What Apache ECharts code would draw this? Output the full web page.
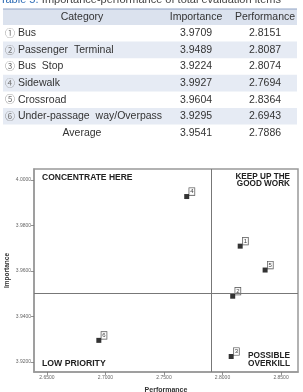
<!DOCTYPE html>
<html><head><meta charset="utf-8">
<script src="https://cdn.jsdelivr.net/npm/echarts@6/dist/echarts.min.js"></script>
<style>html,body{margin:0;padding:0;background:#fff;overflow:hidden}#c{width:303px;height:392px}</style>
</head><body><div id="c"></div>
<script>
const titleLabel = 'Table 5.';
const titleText = 'Importance-performance of total evaluation items';
const headers = ['Category', 'Importance', 'Performance'];
const categories = ['Bus', 'Passenger  Terminal', 'Bus  Stop', 'Sidewalk', 'Crossroad', 'Under-passage  way/Overpass'];
const markers = ['①', '②', '③', '④', '⑤', '⑥'];
const pointIds = ['1', '2', '3', '4', '5', '6'];
const importance = [3.9709, 3.9489, 3.9224, 3.9927, 3.9604, 3.9295];
const performance = [2.8151, 2.8087, 2.8074, 2.7694, 2.8364, 2.6943];
const averageLabel = 'Average';
const averageImportance = 3.9541;
const averagePerformance = 2.7886;
const xTicks = [2.65, 2.70, 2.75, 2.80, 2.85];
const yTicks = [3.92, 3.94, 3.96, 3.98, 4.00];
const xName = 'Performance';
const yName = 'Importance';
const quadrantLabels = ['CONCENTRATE HERE', 'KEEP UP THE\nGOOD WORK', 'LOW PRIORITY', 'POSSIBLE\nOVERKILL'];

const FONT = "'Liberation Sans','Noto Sans CJK KR',sans-serif";
const chart = echarts.init(document.getElementById('c'), null, {renderer: 'canvas'});

const graphics = [];
// title
graphics.push({type: 'text', left: 0, top: -6, style: {
  text: '{a|' + titleLabel + '} {b|' + titleText + '}', fontFamily: FONT,
  rich: {a: {fill: '#2f6db5', fontSize: 11, fontFamily: FONT}, b: {fill: '#444', fontSize: 11, fontFamily: FONT}}
}});
// table
const tx0 = 3, tx1 = 297, hTop = 9, hH = 16, rH = 16.6;
graphics.push({type: 'rect', shape: {x: tx0, y: hTop, width: tx1 - tx0, height: hH}, style: {fill: '#dbe2ee'}});
graphics.push({type: 'line', shape: {x1: tx0, y1: hTop, x2: tx1, y2: hTop}, style: {stroke: '#8fa2c4', lineWidth: 1}});
const colX = [82, 196, 265];
headers.forEach((h, j) => graphics.push({type: 'text', x: colX[j], y: hTop + hH / 2, style: {
  text: h, fontFamily: FONT, fontSize: 10.5, fill: '#333', align: 'center', verticalAlign: 'middle'}}));
const rows = categories.map((c, i) => ({name: c, mk: markers[i], imp: importance[i], perf: performance[i]}));
rows.push({name: averageLabel, mk: null, imp: averageImportance, perf: averagePerformance});
rows.forEach((r, i) => {
  const top = hTop + hH + i * rH, cy = top + rH / 2;
  if (i % 2 === 1) graphics.push({type: 'rect', shape: {x: tx0, y: top, width: tx1 - tx0, height: rH}, style: {fill: '#e6ebf4'}});
  if (r.mk) {
    graphics.push({type: 'text', x: 5, y: cy, style: {text: '{m|' + r.mk + '} ' + r.name, fontFamily: FONT, fontSize: 10.5, fill: '#333', verticalAlign: 'middle',
      rich: {m: {fontSize: 10, fill: '#777', fontFamily: "'Noto Sans CJK KR'"}}}});
  } else {
    graphics.push({type: 'text', x: colX[0], y: cy, style: {text: r.name, fontFamily: FONT, fontSize: 10.5, fill: '#333', align: 'center', verticalAlign: 'middle'}});
  }
  graphics.push({type: 'text', x: colX[1], y: cy, style: {text: r.imp.toFixed(4), fontFamily: FONT, fontSize: 10.5, fill: '#333', align: 'center', verticalAlign: 'middle'}});
  graphics.push({type: 'text', x: colX[2], y: cy, style: {text: r.perf.toFixed(4), fontFamily: FONT, fontSize: 10.5, fill: '#333', align: 'center', verticalAlign: 'middle'}});
});
// quadrant labels
const qFont = "'Liberation Sans',Arial,sans-serif";
graphics.push({type: 'text', x: 42, y: 178, z: 10, style: {text: quadrantLabels[0], fontFamily: qFont, fontWeight: 'bold', fontSize: 8.5, fill: '#222', verticalAlign: 'middle'}});
graphics.push({type: 'text', x: 290, y: 180, z: 10, style: {text: quadrantLabels[1], fontFamily: qFont, fontWeight: 'bold', fontSize: 8.2, lineHeight: 6.8, fill: '#222', align: 'right', verticalAlign: 'middle'}});
graphics.push({type: 'text', x: 42, y: 364, z: 10, style: {text: quadrantLabels[2], fontFamily: qFont, fontWeight: 'bold', fontSize: 8.7, fill: '#222', verticalAlign: 'middle'}});
graphics.push({type: 'text', x: 290, y: 360, z: 10, style: {text: quadrantLabels[3], fontFamily: qFont, fontWeight: 'bold', fontSize: 8.3, lineHeight: 8, fill: '#222', align: 'right', verticalAlign: 'middle'}});

const axisCommon = {
  type: 'value', scale: true,
  axisLine: {show: true, onZero: false, lineStyle: {color: '#999', width: 1.5}},
  splitLine: {show: false},
  nameTextStyle: {fontFamily: qFont, fontWeight: 'bold', color: '#333'}
};

chart.setOption({
  animation: false,
  backgroundColor: '#fff',
  grid: {left: 34, top: 169, right: 5, bottom: 20, containLabel: false, outerBoundsMode: 'none', show: true, borderColor: '#999', borderWidth: 1.5},
  graphic: graphics,
  xAxis: Object.assign({}, axisCommon, {
    min: 2.6389, max: 2.8645,
    name: xName, nameLocation: 'middle', nameGap: 15,
    nameTextStyle: Object.assign({}, axisCommon.nameTextStyle, {fontSize: 7}),
    axisTick: {show: true, length: 3, customValues: xTicks, lineStyle: {color: '#777', width: 0.8}},
    axisLabel: {customValues: xTicks, formatter: v => v.toFixed(4), fontSize: 5, color: '#666', margin: 3, fontFamily: qFont}
  }),
  yAxis: Object.assign({}, axisCommon, {
    min: 3.9156, max: 4.0048,
    name: yName, nameLocation: 'middle', nameGap: 23, nameRotate: 90, nameMoveOverlap: false,
    nameTextStyle: Object.assign({}, axisCommon.nameTextStyle, {fontSize: 6.5}),
    axisTick: {show: true, length: 3, customValues: yTicks, lineStyle: {color: '#777', width: 0.8}},
    axisLabel: {customValues: yTicks, formatter: v => v.toFixed(4), fontSize: 5, color: '#666', margin: 3, fontFamily: qFont}
  }),
  series: [{
    type: 'scatter',
    symbol: 'rect', symbolSize: 5,
    itemStyle: {color: '#000'},
    data: performance.map((p, i) => ({value: [p, importance[i]], name: pointIds[i]})),
    label: {show: true, formatter: d => d.name, position: [5, -6], fontSize: 6, color: '#000', fontFamily: qFont,
      backgroundColor: '#fff', borderColor: '#222', borderWidth: 0.6, padding: [0, 1, 0, 1], lineHeight: 7},
    markLine: {
      silent: true, symbol: 'none', label: {show: false},
      lineStyle: {color: '#777', width: 1, type: 'solid'},
      data: [{xAxis: averagePerformance}, {yAxis: averageImportance}]
    }
  }]
});
</script></body></html>
